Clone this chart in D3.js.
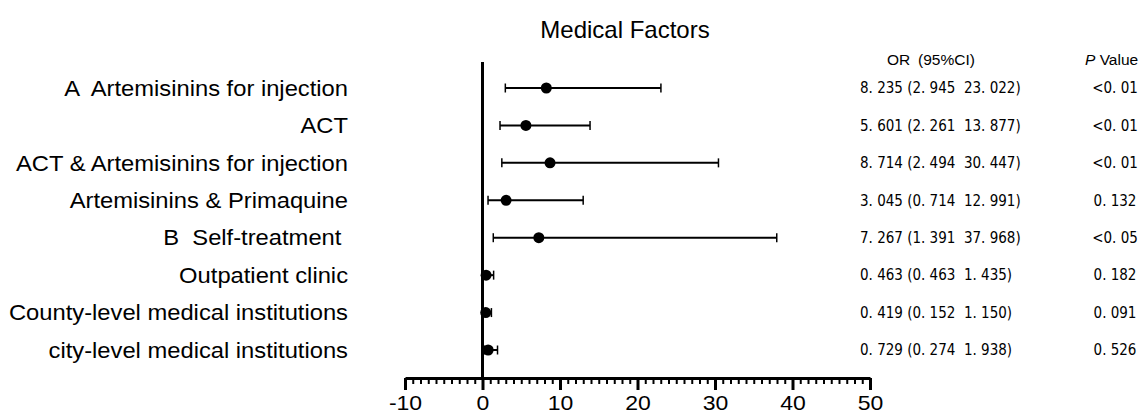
<!DOCTYPE html>
<meta charset="utf-8">
<style>
body { margin: 0; background: #fff; }
.label { font-family: "Liberation Sans", Arial, sans-serif; font-size: 22px; fill: #000; white-space: pre; }
.stat { font-family: "Liberation Sans Narrow", "DejaVu Sans Condensed", sans-serif; font-size: 15px; fill: #000; white-space: pre; }
.head { font-family: "Liberation Sans", Arial, sans-serif; font-size: 15.5px; fill: #000; white-space: pre; }
.tick text { font-family: "Liberation Sans", Arial, sans-serif; font-size: 20px; }
</style>
<svg width="1146" height="417"></svg>
<script src="https://cdn.jsdelivr.net/npm/d3@7/dist/d3.min.js"></script>
<script>
var factors = ["A  Artemisinins for injection", "ACT", "ACT & Artemisinins for injection",
  "Artemisinins & Primaquine", "B  Self-treatment ", "Outpatient clinic",
  "County-level medical institutions", "city-level medical institutions"];
var or = [8.235, 5.601, 8.714, 3.045, 7.267, 0.463, 0.419, 0.729];
var lower = [2.945, 2.261, 2.494, 0.714, 1.391, 0.463, 0.152, 0.274];
var upper = [23.022, 13.877, 30.447, 12.991, 37.968, 1.435, 1.150, 1.938];
var ciText = ["8. 235 (2. 945  23. 022)", "5. 601 (2. 261  13. 877)", "8. 714 (2. 494  30. 447)",
  "3. 045 (0. 714  12. 991)", "7. 267 (1. 391  37. 968)", "0. 463 (0. 463  1. 435)",
  "0. 419 (0. 152  1. 150)", "0. 729 (0. 274  1. 938)"];
var pText = ["<0. 01", "<0. 01", "<0. 01", "0. 132", "<0. 05", "0. 182", "0. 091", "0. 526"];
var xTicks = [-10, 0, 10, 20, 30, 40, 50];

var svg = d3.select("svg");

var x = d3.scaleLinear().domain([-10, 50]).range([405, 870]);
var y = d3.scalePoint().domain(d3.range(factors.length)).range([88, 350]);

svg.append("text")
    .attr("class", "label")
    .attr("x", 625).attr("y", 38)
    .attr("text-anchor", "middle")
    .style("font-size", "24px")
    .text("Medical Factors");

// x axis with minor ticks
var axisY = 378;
svg.append("g")
    .attr("transform", "translate(0," + axisY + ")")
    .call(d3.axisBottom(x).tickValues(d3.range(-10, 51, 1)).tickSize(6).tickFormat(""))
    .call(function(g) {
      g.select(".domain").remove();
      g.selectAll(".tick line").attr("stroke-width", 2);
    });
svg.append("g")
    .attr("transform", "translate(0," + axisY + ")")
    .call(d3.axisBottom(x).tickValues(xTicks).tickSize(12).tickPadding(6).tickSizeOuter(0)
      .tickFormat(function(d) { return String(d); }))
    .call(function(g) {
      g.select(".domain").attr("stroke-width", 3);
      g.selectAll(".tick line").attr("stroke-width", 3);
      g.selectAll(".tick text").attr("fill", "#000").attr("transform", "scale(1.15,1)");
    });

// reference line at zero
svg.append("line")
    .attr("x1", x(0)).attr("x2", x(0))
    .attr("y1", 62).attr("y2", axisY)
    .attr("stroke", "#000").attr("stroke-width", 3);

var rows = svg.append("g").selectAll("g")
    .data(factors)
  .enter().append("g")
    .attr("transform", function(d, i) { return "translate(0," + y(i) + ")"; });

rows.append("line")
    .attr("x1", function(d, i) { return x(lower[i]); })
    .attr("x2", function(d, i) { return x(upper[i]); })
    .attr("stroke", "#000").attr("stroke-width", 2);
rows.append("line")
    .attr("x1", function(d, i) { return x(lower[i]); })
    .attr("x2", function(d, i) { return x(lower[i]); })
    .attr("y1", -4.5).attr("y2", 4.5)
    .attr("stroke", "#000").attr("stroke-width", 1.5);
rows.append("line")
    .attr("x1", function(d, i) { return x(upper[i]); })
    .attr("x2", function(d, i) { return x(upper[i]); })
    .attr("y1", -4.5).attr("y2", 4.5)
    .attr("stroke", "#000").attr("stroke-width", 1.5);
rows.append("circle")
    .attr("cx", function(d, i) { return x(or[i]); })
    .attr("r", 5.5)
    .attr("fill", "#000");

rows.append("text")
    .attr("class", "label")
    .attr("transform", "translate(348,0) scale(1.08,1)")
    .attr("dy", "0.35em")
    .attr("text-anchor", "end")
    .text(function(d) { return d; });

rows.append("text")
    .attr("class", "stat")
    .attr("x", 860).attr("dy", "0.35em")
    .text(function(d, i) { return ciText[i]; });

rows.append("text")
    .attr("class", "stat")
    .attr("x", 1115).attr("dy", "0.35em")
    .attr("text-anchor", "middle")
    .text(function(d, i) { return pText[i]; });

svg.append("text")
    .attr("class", "head")
    .attr("x", 931).attr("y", 65)
    .attr("text-anchor", "middle")
    .text("OR\u2002(95%CI)");

var pv = svg.append("text")
    .attr("class", "head")
    .attr("x", 1085).attr("y", 65);
pv.append("tspan").style("font-style", "italic").text("P");
pv.append("tspan").text(" Value");
</script>
